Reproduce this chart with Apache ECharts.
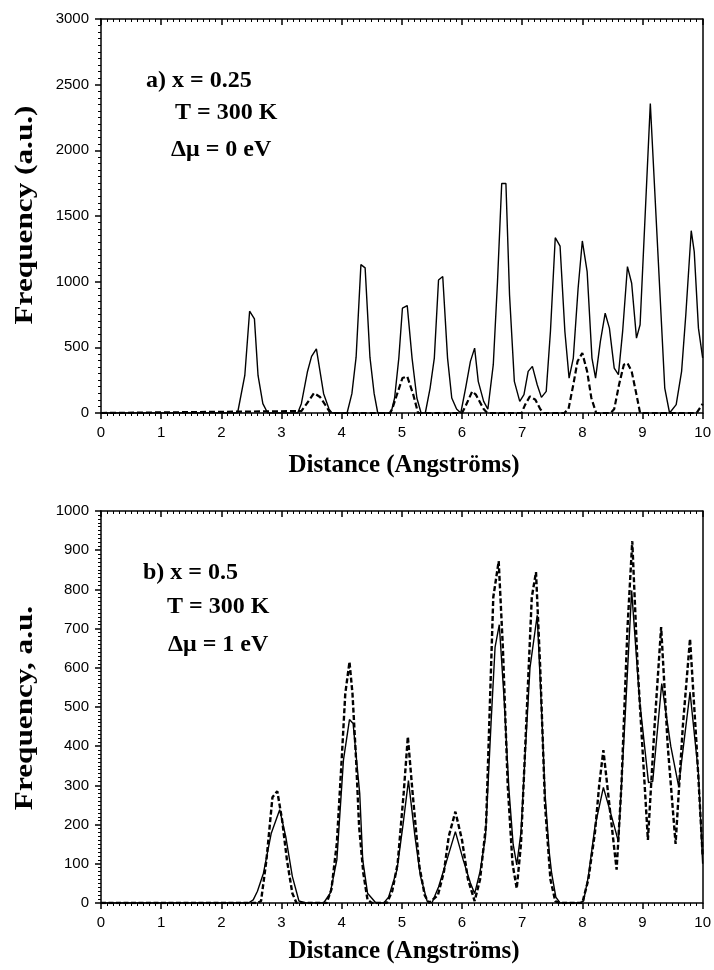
<!DOCTYPE html>
<html>
<head>
<meta charset="utf-8">
<script src="https://cdn.jsdelivr.net/npm/echarts@6/dist/echarts.min.js"></script>
<style>
html,body{margin:0;padding:0;background:#fff;}
#chart{width:714px;height:970px;}
</style>
</head>
<body>
<div id="chart"></div>
<script>
// ---------- DATA ----------
const xTicks = [0,1,2,3,4,5,6,7,8,9,10];

// Panel a) x = 0.25, T = 300 K, Δμ = 0 eV
const aSolidX = [0,2.27,2.39,2.47,2.55,2.61,2.69,2.77,3.27,3.33,3.43,3.50,3.58,3.70,3.79,3.84,4.09,4.17,4.24,4.32,4.39,4.47,4.54,4.60,4.82,4.88,4.95,5.01,5.09,5.17,5.25,5.32,5.39,5.47,5.54,5.61,5.68,5.76,5.83,5.91,5.98,6.06,6.14,6.21,6.27,6.36,6.43,6.52,6.59,6.66,6.73,6.79,6.87,6.96,7.03,7.10,7.17,7.25,7.32,7.40,7.47,7.55,7.63,7.71,7.78,7.85,7.93,8.00,8.08,8.16,8.22,8.30,8.38,8.45,8.53,8.60,8.67,8.75,8.82,8.90,8.96,9.13,9.37,9.45,9.56,9.65,9.72,9.81,9.86,9.93,10.0];
const aSolidY = [0,0,286,775,717,286,71,0,0,71,312,431,489,147,30,0,0,147,425,1130,1105,425,147,0,0,114,418,798,818,418,114,0,0,190,418,1013,1039,418,114,30,0,190,393,494,241,89,30,368,1000,1748,1748,900,241,89,140,317,355,215,119,165,621,1335,1270,621,266,418,950,1310,1077,418,266,545,760,646,342,292,621,1115,988,570,672,2356,190,0,64,317,748,1388,1229,646,420];
const aDashX = [0,3.33,3.42,3.54,3.64,3.75,3.81,4.80,4.84,4.90,5.01,5.09,5.19,5.27,6.00,6.06,6.17,6.23,6.36,6.42,6.99,7.05,7.13,7.22,7.30,7.36,7.70,7.77,7.85,7.92,8.00,8.08,8.15,8.23,8.47,8.53,8.61,8.69,8.75,8.82,8.90,8.96,9.90,10.0];
const aDashY = [0,15,71,152,122,46,0,0,30,114,266,279,140,0,0,53,165,140,30,0,0,64,127,101,30,0,0,30,215,393,456,317,114,0,0,30,215,368,380,317,140,0,0,70];

// Panel b) x = 0.5, T = 300 K, Δμ = 1 eV
const bSolidX = [0,2.45,2.53,2.60,2.70,2.83,2.97,3.07,3.18,3.29,3.40,3.70,3.81,3.92,4.03,4.13,4.19,4.30,4.35,4.43,4.57,4.70,4.78,4.92,5.02,5.11,5.22,5.31,5.42,5.50,5.61,5.75,5.89,6.02,6.14,6.21,6.30,6.39,6.49,6.55,6.62,6.70,6.78,6.85,6.91,6.98,7.05,7.13,7.25,7.32,7.38,7.45,7.49,7.56,7.63,7.95,8.02,8.10,8.21,8.35,8.47,8.60,8.72,8.82,8.95,9.10,9.17,9.32,9.47,9.60,9.79,9.93,10.0];
const bSolidY = [0,0,8,30,76,178,238,170,68,5,0,0,25,110,365,468,458,280,110,25,0,0,15,85,200,312,168,68,5,0,41,110,182,110,51,24,80,168,480,653,710,520,290,150,97,180,380,600,734,500,279,130,76,15,0,0,5,68,195,295,230,157,500,797,520,307,310,560,400,298,538,330,100];
const bDashX = [0,2.60,2.66,2.75,2.85,2.93,3.01,3.09,3.18,3.25,3.75,3.83,3.92,4.00,4.06,4.13,4.18,4.24,4.29,4.36,4.43,4.50,4.75,4.84,4.93,5.03,5.10,5.18,5.29,5.38,5.45,5.60,5.70,5.78,5.89,6.00,6.10,6.21,6.30,6.40,6.52,6.61,6.68,6.76,6.84,6.91,6.98,7.08,7.16,7.23,7.30,7.38,7.47,7.55,7.62,8.00,8.10,8.21,8.28,8.35,8.45,8.57,8.65,8.75,8.83,8.92,9.09,9.20,9.31,9.42,9.55,9.67,9.79,9.90,10.0];
const bDashY = [0,0,5,110,270,285,212,110,25,0,0,35,153,365,534,615,534,365,195,76,8,0,0,30,100,279,424,279,95,20,0,20,80,170,233,161,60,5,60,200,780,872,650,300,100,37,150,500,780,844,600,250,60,5,0,0,60,180,300,390,250,85,300,700,923,600,161,450,704,400,151,450,674,400,120];

function pairs(xs, ys){ return xs.map((x,i)=>[x, ys[i]]); }

// ---------- CHART ----------
const chart = echarts.init(document.getElementById('chart'), null, {renderer:'canvas'});
const LABEL_FONT = '"Liberation Sans", Arial, sans-serif';
const SERIF = '"Liberation Serif", "Times New Roman", serif';
const plain = v => String(v);

function bottomX(gi){
  return {
    type:'value', gridIndex:gi, min:0, max:10, interval:1, position:'bottom',
    axisLine:{show:true, onZero:false, lineStyle:{color:'#000', width:1.5}},
    axisTick:{show:true, inside:false, length:6, lineStyle:{color:'#000', width:1.5}},
    minorTick:{show:true, splitNumber:10, length:3, lineStyle:{color:'#000', width:1}},
    axisLabel:{show:true, margin:12, color:'#000', fontSize:15, fontFamily:LABEL_FONT, formatter:plain},
    splitLine:{show:false}
  };
}
function topX(gi){
  return {
    type:'value', gridIndex:gi, min:0, max:10, interval:1, position:'top',
    axisLine:{show:true, onZero:false, lineStyle:{color:'#000', width:1.5}},
    axisTick:{show:true, inside:true, length:6, lineStyle:{color:'#000', width:1.5}},
    minorTick:{show:true, splitNumber:10, length:3, lineStyle:{color:'#000', width:1}},
    axisLabel:{show:false}, splitLine:{show:false}
  };
}
function leftY(gi, max, interval){
  return {
    type:'value', gridIndex:gi, min:0, max:max, interval:interval, position:'left',
    axisLine:{show:true, onZero:false, lineStyle:{color:'#000', width:1.5}},
    axisTick:{show:true, inside:false, length:6, lineStyle:{color:'#000', width:1.5}},
    minorTick:{show:true, splitNumber:10, length:3, lineStyle:{color:'#000', width:1}},
    axisLabel:{show:true, margin:12, color:'#000', fontSize:15, fontFamily:LABEL_FONT, formatter:plain},
    splitLine:{show:false}
  };
}
function rightY(gi, max, interval){
  return {
    type:'value', gridIndex:gi, min:0, max:max, interval:interval, position:'right',
    axisLine:{show:true, onZero:false, lineStyle:{color:'#000', width:1.5}},
    axisTick:{show:false}, axisLabel:{show:false}, splitLine:{show:false}
  };
}

const solidStyle = {color:'#000', width:1.4, type:'solid'};
const dashStyleA = {color:'#000', width:2.2, type:[6,3]};
const dashStyleB = {color:'#000', width:2.4, type:[5,2.5]};

function lineSeries(data, xi, yi, style){
  return {type:'line', data:data, xAxisIndex:xi, yAxisIndex:yi, showSymbol:false, symbol:'none',
    lineStyle:style, animation:false, silent:true, clip:true};
}

function txt(x, y, s, size, opts){
  return Object.assign({type:'text', x:x, y:y, silent:true,
    style:{text:s, fill:'#000', font:'bold '+size+'px '+SERIF, textAlign:'left', textVerticalAlign:'middle'}}, opts||{});
}

chart.setOption({
  backgroundColor:'#fff',
  animation:false,
  grid:[
    {left:101, width:606, top:19, height:394},
    {left:101, width:606, top:511, height:392}
  ],
  xAxis:[bottomX(0), topX(0), bottomX(1), topX(1)],
  yAxis:[leftY(0,3000,500), rightY(0,3000,500), leftY(1,1000,100), rightY(1,1000,100)],
  series:[
    lineSeries(pairs(aSolidX,aSolidY),0,0,solidStyle),
    lineSeries(pairs(aDashX,aDashY),0,0,dashStyleA),
    lineSeries(pairs(bSolidX,bSolidY),2,2,solidStyle),
    lineSeries(pairs(bDashX,bDashY),2,2,dashStyleB)
  ],
  graphic:[
    txt(146, 81, 'a) x = 0.25', 24),
    txt(175, 113, 'T = 300 K', 24),
    txt(171, 150, '\u0394\u03bc = 0 eV', 24),
    txt(143, 573, 'b) x = 0.5', 24),
    txt(167, 607, 'T = 300 K', 24),
    txt(168, 645, '\u0394\u03bc = 1 eV', 24),
    {type:'text', x:404, y:466, silent:true, style:{text:'Distance (Angstr\u00f6ms)', fill:'#000', font:'bold 25px '+SERIF, textAlign:'center', textVerticalAlign:'middle'}},
    {type:'text', x:404, y:952, silent:true, style:{text:'Distance (Angstr\u00f6ms)', fill:'#000', font:'bold 25px '+SERIF, textAlign:'center', textVerticalAlign:'middle'}},
    {type:'text', x:26, y:215, rotation:Math.PI/2, scaleX:1.25, silent:true, style:{text:'Frequency (a.u.)', fill:'#000', font:'bold 25px '+SERIF, textAlign:'center', textVerticalAlign:'middle'}},
    {type:'text', x:26, y:708, rotation:Math.PI/2, scaleX:1.25, silent:true, style:{text:'Frequency, a.u.', fill:'#000', font:'bold 25px '+SERIF, textAlign:'center', textVerticalAlign:'middle'}}
  ]
});
</script>
</body>
</html>
